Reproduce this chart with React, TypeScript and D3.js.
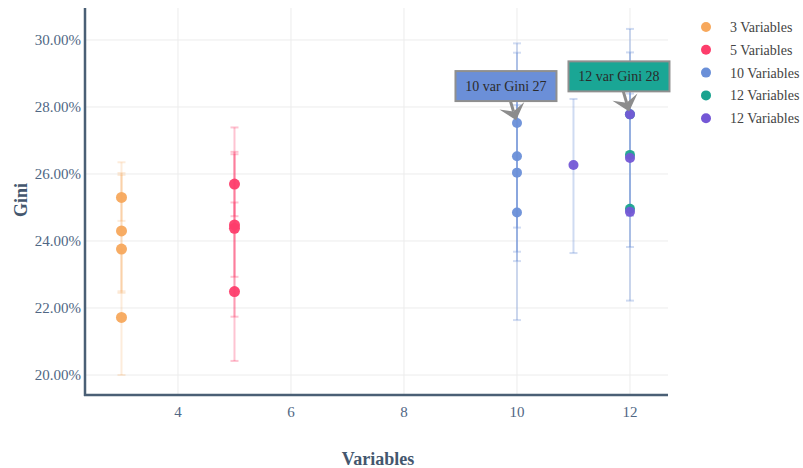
import React from "react";
import * as d3 from "d3";

// Gini by number of variables, with per-run error ranges
const x3 = [3, 3, 3, 3];
const gini3 = [25.3, 24.3, 23.76, 21.72];
const lo3 = [24.6, 22.5, 22.45, 20.0];
const hi3 = [26.35, 26.03, 25.97, 23.76];

const x5 = [5, 5, 5, 5];
const gini5 = [25.7, 24.48, 24.38, 22.49];
const lo5 = [24.74, 21.74, 22.93, 20.42];
const hi5 = [26.66, 27.39, 26.59, 25.15];

const x10 = [10, 10, 10, 10];
const gini10 = [27.52, 26.53, 26.04, 24.85];
const lo10 = [24.4, 23.4, 23.68, 21.64];
const hi10 = [29.9, 29.62, 28.44, 28.06];

const x12a = [12, 12, 12];
const gini12a = [27.78, 26.57, 24.96];

const x12b = [11, 12, 12, 12];
const gini12b = [26.27, 27.78, 26.48, 24.87];
const lo12b = [23.64, 24.75, 23.82, 22.22];
const hi12b = [28.24, 30.33, 29.63, 28.4];

const xTicks = [4, 6, 8, 10, 12];
const yTicks = [20, 22, 24, 26, 28, 30];

const seriesNames = ["3 Variables", "5 Variables", "10 Variables", "12 Variables", "12 Variables"];
const seriesColors = ["#f7a85c", "#fd3d6b", "#6a8fd8", "#1aa38f", "#7457d6"];

const annotations = [
  { x: 10, y: 27.52, text: "10 var Gini 27", fill: "#6b8fd8", dx: -11, dy: -37 },
  { x: 12, y: 27.78, text: "12 var Gini 28", fill: "#1aa695", dx: -11, dy: -38 },
];

const W = 803;
const H = 468;
const left = 85;
const right = 668;
const top = 8;
const bottom = 395;

export default function App() {
  const xs = d3.scaleLinear().domain([2.354, 12.673]).range([left, right]);
  const ys = d3.scaleLinear().domain([19.403, 30.955]).range([bottom, top]);
  const serif = "'Liberation Serif', 'Times New Roman', serif";
  const tickColor = "#506784";

  const series = [
    { xv: x3, g: gini3, lo: lo3, hi: hi3, color: seriesColors[0], barColor: seriesColors[0], op: 0.22, r: 5.5 },
    { xv: x5, g: gini5, lo: lo5, hi: hi5, color: seriesColors[1], barColor: seriesColors[1], op: 0.3, r: 5.5 },
    { xv: x10, g: gini10, lo: lo10, hi: hi10, color: seriesColors[2], barColor: seriesColors[2], op: 0.3, r: 5 },
    { xv: x12a, g: gini12a, lo: null, hi: null, color: seriesColors[3], barColor: seriesColors[2], op: 0.3, r: 5 },
    { xv: x12b, g: gini12b, lo: lo12b, hi: hi12b, color: seriesColors[4], barColor: seriesColors[2], op: 0.32, r: 5 },
  ];

  return (
    <svg
      width={W}
      height={H}
      style={{ position: "absolute", left: 0, top: 0, background: "#fff" }}
      fontFamily={serif}
    >
      {/* grid */}
      {xTicks.map((t) => (
        <line key={"gx" + t} x1={xs(t)} x2={xs(t)} y1={top} y2={bottom} stroke="#ececec" strokeWidth={1} />
      ))}
      {yTicks.map((t) => (
        <line key={"gy" + t} x1={left} x2={right} y1={ys(t)} y2={ys(t)} stroke="#ececec" strokeWidth={1} />
      ))}

      {/* error bars */}
      {series.map((s, si) =>
        s.lo
          ? s.g.map((_, i) => {
              const cx = xs(s.xv[i]);
              const y1 = ys(s.hi![i]);
              const y2 = ys(s.lo![i]);
              return (
                <g key={`e${si}-${i}`} stroke={s.barColor} strokeOpacity={s.op} strokeWidth={2} fill="none">
                  <line x1={cx} x2={cx} y1={y1} y2={y2} />
                  <line x1={cx - 4} x2={cx + 4} y1={y1} y2={y1} />
                  <line x1={cx - 4} x2={cx + 4} y1={y2} y2={y2} />
                </g>
              );
            })
          : null
      )}

      {/* markers */}
      {series.map((s, si) =>
        s.g.map((v, i) => (
          <circle key={`m${si}-${i}`} cx={xs(s.xv[i])} cy={ys(v)} r={s.r} fill={s.color} fillOpacity={0.95} />
        ))
      )}

      {/* axes */}
      <line x1={left} x2={left} y1={top} y2={bottom + 1} stroke="#4a5f75" strokeWidth={2.5} />
      <line x1={left - 1} x2={right} y1={bottom} y2={bottom} stroke="#4a5f75" strokeWidth={2.5} />

      {yTicks.map((t) => (
        <text key={"ty" + t} x={81} y={ys(t)} dy="0.35em" textAnchor="end" fontSize={15} fill={tickColor}>
          {d3.format(".2f")(t) + "%"}
        </text>
      ))}
      {xTicks.map((t) => (
        <text key={"tx" + t} x={xs(t)} y={417} textAnchor="middle" fontSize={15} fill={tickColor}>
          {t}
        </text>
      ))}

      <text x={378} y={465} textAnchor="middle" fontSize={18} fontWeight="bold" fill="#44576e">
        Variables
      </text>
      <text
        transform={`translate(27,200) rotate(-90)`}
        textAnchor="middle"
        fontSize={18}
        fontWeight="bold"
        fill="#44576e"
      >
        Gini
      </text>

      {/* annotations */}
      {annotations.map((a, i) => {
        const px = xs(a.x);
        const py = ys(a.y);
        const bx = px + a.dx;
        const by = py + a.dy;
        const bw = 101;
        const bh = 30;
        const ang = Math.atan2(py - by, px - bx);
        const tipX = px - Math.cos(ang) * 3;
        const tipY = py - Math.sin(ang) * 3;
        const len = 15;
        const half = 13;
        const backX = tipX - Math.cos(ang) * len;
        const backY = tipY - Math.sin(ang) * len;
        const nx = -Math.sin(ang);
        const ny = Math.cos(ang);
        const notchX = tipX - Math.cos(ang) * len * 0.6;
        const notchY = tipY - Math.sin(ang) * len * 0.6;
        const head = [
          [tipX, tipY],
          [backX + nx * half, backY + ny * half],
          [notchX, notchY],
          [backX - nx * half, backY - ny * half],
        ];
        return (
          <g key={"a" + i}>
            <line x1={bx} y1={by} x2={notchX} y2={notchY} stroke="#8c8c8c" strokeWidth={3} />
            <polygon points={head.map((p) => p.join(",")).join(" ")} fill="#8c8c8c" />
            <rect x={bx - bw / 2} y={by - bh / 2} width={bw} height={bh} fill={a.fill} stroke="#8f8f8f" strokeWidth={2} />
            <text x={bx} y={by} dy="0.35em" textAnchor="middle" fontSize={14} fill="#2b2b2b">
              {a.text}
            </text>
          </g>
        );
      })}

      {/* legend */}
      {seriesNames.map((n, i) => (
        <g key={"l" + i} transform={`translate(706, ${27 + i * 22.8})`}>
          <circle cx={0} cy={0} r={5} fill={seriesColors[i]} />
          <text x={24} y={0} dy="0.35em" fontSize={14} fill="#444">
            {n}
          </text>
        </g>
      ))}
    </svg>
  );
}
